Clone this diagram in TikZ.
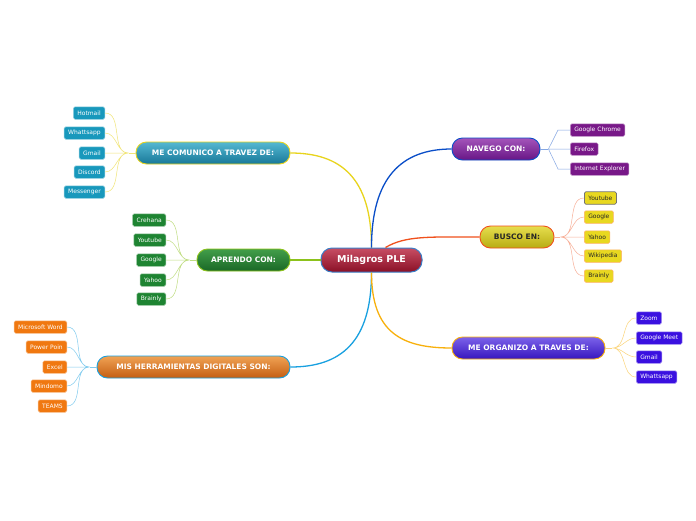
\documentclass[tikz,border=0pt]{standalone}
\usepackage{fontspec}
\setmainfont{DejaVu Sans}

\definecolor{rootline}{HTML}{3A7FC8}
\definecolor{comline}{HTML}{E8D41C}
\definecolor{aprline}{HTML}{8CC21C}
\definecolor{herline}{HTML}{18A0E0}
\definecolor{navline}{HTML}{0A4EC8}
\definecolor{busline}{HTML}{F0501C}
\definecolor{orgline}{HTML}{F8B00C}
\definecolor{comleaf}{HTML}{1898BC}
\definecolor{aprleaf}{HTML}{1E8432}
\definecolor{herleaf}{HTML}{F07810}
\definecolor{navleaf}{HTML}{781888}
\definecolor{busleaf}{HTML}{E8D820}
\definecolor{orgleaf}{HTML}{3A10E0}

\tikzset{
  root/.style={draw=rootline, line width=1pt, rounded corners=11pt,
    top color=red!30!purple!60!white, bottom color=red!60!black,
    middle color=red!70!purple!75!black,
    text=white, font=\bfseries\fontsize{9.5}{11}\selectfont,
    minimum width=101pt, minimum height=24pt, inner sep=0pt},
  branch/.style={line width=0.9pt, rounded corners=10.5pt, text=white,
    font=\bfseries\fontsize{7.5}{9}\selectfont,
    minimum height=22pt, inner sep=0pt},
  leaf/.style={line width=0.5pt, rounded corners=1.5pt, text=white,
    font=\fontsize{6}{7}\selectfont,
    minimum height=12.5pt, inner xsep=4pt, inner ysep=0pt},
  link/.style={line width=1.3pt},
  twig/.style={line width=0.5pt}
}

\begin{document}
\begin{tikzpicture}[x=1pt,y=-1pt]
  \fill[white] (0,0) rectangle (696,520);
  \useasboundingbox (0,0) rectangle (696,520);

  % centre and branches
  \node[root, top color={rgb,255:red,200;green,78;blue,100}, middle color={rgb,255:red,170;green,32;blue,58},
    bottom color={rgb,255:red,138;green,16;blue,38}] (root) at (371.5,260) {Milagros PLE};
  \node[branch, draw=comline, top color={rgb,255:red,84;green,184;blue,210}, bottom color={rgb,255:red,24;green,120;blue,152},
    minimum width=154pt] (comunico) at (213,153) {ME COMUNICO A TRAVEZ DE:};
  \node[branch, draw=aprline, top color={rgb,255:red,66;green,158;blue,74}, bottom color={rgb,255:red,26;green,104;blue,38},
    minimum width=93pt] (aprendo) at (243.5,260) {APRENDO CON:};
  \node[branch, draw=herline, top color={rgb,255:red,240;green,162;blue,84}, bottom color={rgb,255:red,196;green,94;blue,18},
    minimum width=193pt] (herram) at (193.5,367) {MIS HERRAMIENTAS DIGITALES SON:};
  \node[branch, draw=navline, top color={rgb,255:red,164;green,84;blue,186}, bottom color={rgb,255:red,104;green,22;blue,134},
    minimum width=88pt] (navego) at (496,149) {NAVEGO CON:};
  \node[branch, draw=busline, top color={rgb,255:red,230;green,222;blue,78}, bottom color={rgb,255:red,184;green,172;blue,18},
    text=black!85, minimum width=74pt] (busco) at (517,237) {BUSCO EN:};
  \node[branch, draw=orgline, top color={rgb,255:red,124;green,98;blue,234}, bottom color={rgb,255:red,54;green,22;blue,190},
    minimum width=153pt] (organizo) at (528.5,348) {ME ORGANIZO A TRAVES DE:};

  \draw[link, comline] (root.north) .. controls +(0,-70) and +(50,0) .. (comunico.east);
  \draw[link, navline] (root.north) .. controls +(0,-70) and +(-50,0) .. (navego.west);
  \draw[link, busline] ([xshift=14pt]root.north) .. controls +(20,-12) and +(-50,0) .. (busco.west);
  \draw[link, aprline] (root.west) -- (aprendo.east);
  \draw[link, herline] (root.south) .. controls +(0,70) and +(50,0) .. (herram.east);
  \draw[link, orgline] (root.south) .. controls +(0,60) and +(-50,0) .. (organizo.west);

  % ME COMUNICO A TRAVEZ DE
  \node[leaf, fill=comleaf, draw=comleaf!45, anchor=east] (com1) at (105,113) {Hotmail};
  \node[leaf, fill=comleaf, draw=comleaf!45, anchor=east] (com2) at (105,133) {Whattsapp};
  \node[leaf, fill=comleaf, draw=comleaf!45, anchor=east] (com3) at (105,153) {Gmail};
  \node[leaf, fill=comleaf, draw=comleaf!45, anchor=east] (com4) at (105,172) {Discord};
  \node[leaf, fill=comleaf, draw=comleaf!45, anchor=east] (com5) at (105,192) {Messenger};
  \draw[twig, comline!60] (comunico.west) -- ++(-7,0) coordinate (comhub);
  \draw[twig, comline!60] (comhub) to[out=180,in=0] (com1.east)
    (comhub) to[out=180,in=0] (com2.east) (comhub) -- (com3.east)
    (comhub) to[out=180,in=0] (com4.east) (comhub) to[out=180,in=0] (com5.east);

  % APRENDO CON
  \node[leaf, fill=aprleaf, draw=aprleaf!45, anchor=east] (apr1) at (166,220) {Crehana};
  \node[leaf, fill=aprleaf, draw=aprleaf!45, anchor=east] (apr2) at (166,240) {Youtube};
  \node[leaf, fill=aprleaf, draw=aprleaf!45, anchor=east] (apr3) at (166,260) {Google};
  \node[leaf, fill=aprleaf, draw=aprleaf!45, anchor=east] (apr4) at (166,280) {Yahoo};
  \node[leaf, fill=aprleaf, draw=aprleaf!45, anchor=east] (apr5) at (166,299) {Brainly};
  \draw[twig, aprline!55] (aprendo.west) -- ++(-7,0) coordinate (aprhub);
  \draw[twig, aprline!55] (aprhub) to[out=180,in=0] (apr1.east)
    (aprhub) to[out=180,in=0] (apr2.east) (aprhub) -- (apr3.east)
    (aprhub) to[out=180,in=0] (apr4.east) (aprhub) to[out=180,in=0] (apr5.east);

  % MIS HERRAMIENTAS DIGITALES SON
  \node[leaf, fill=herleaf, draw=herleaf!45, anchor=east] (her1) at (67,327) {Microsoft Word};
  \node[leaf, fill=herleaf, draw=herleaf!45, anchor=east] (her2) at (67,347) {Power Poin};
  \node[leaf, fill=herleaf, draw=herleaf!45, anchor=east] (her3) at (67,367) {Excel};
  \node[leaf, fill=herleaf, draw=herleaf!45, anchor=east] (her4) at (67,386) {Mindomo};
  \node[leaf, fill=herleaf, draw=herleaf!45, anchor=east] (her5) at (67,406) {TEAMS};
  \draw[twig, herline!55] (herram.west) -- ++(-7,0) coordinate (herhub);
  \draw[twig, herline!55] (herhub) to[out=180,in=0] (her1.east)
    (herhub) to[out=180,in=0] (her2.east) (herhub) -- (her3.east)
    (herhub) to[out=180,in=0] (her4.east) (herhub) to[out=180,in=0] (her5.east);

  % NAVEGO CON
  \node[leaf, fill=navleaf, draw=navleaf!45, anchor=west] (nav1) at (570,130) {Google Chrome};
  \node[leaf, fill=navleaf, draw=navleaf!45, anchor=west] (nav2) at (570,149) {Firefox};
  \node[leaf, fill=navleaf, draw=navleaf!45, anchor=west] (nav3) at (570,169) {Internet Explorer};
  \draw[twig, navline!50] (navego.east) -- ++(8,0) coordinate (navhub);
  \draw[twig, navline!50] (navhub) -- ([xshift=-12pt]nav1.west) -- (nav1.west)
    (navhub) -- (nav2.west)
    (navhub) -- ([xshift=-12pt]nav3.west) -- (nav3.west);

  % BUSCO EN
  \node[leaf, fill=busleaf, draw=black!55, line width=0.8pt, text=black!85, anchor=west] (bus1) at (584,198) {Youtube};
  \node[leaf, fill=busleaf, draw=orange!60, text=black!85, anchor=west] (bus2) at (584,217) {Google};
  \node[leaf, fill=busleaf, draw=orange!60, text=black!85, anchor=west] (bus3) at (584,237) {Yahoo};
  \node[leaf, fill=busleaf, draw=orange!60, text=black!85, anchor=west] (bus4) at (584,256) {Wikipedia};
  \node[leaf, fill=busleaf, draw=orange!60, text=black!85, anchor=west] (bus5) at (584,276) {Brainly};
  \draw[twig, busline!45] (busco.east) -- ++(6,0) coordinate (bushub);
  \draw[twig, busline!45] (bushub) to[out=0,in=180] (bus1.west)
    (bushub) to[out=0,in=180] (bus2.west) (bushub) -- (bus3.west)
    (bushub) to[out=0,in=180] (bus4.west) (bushub) to[out=0,in=180] (bus5.west);

  % ME ORGANIZO A TRAVES DE
  \node[leaf, fill=orgleaf, draw=orgleaf!45, anchor=west] (org1) at (636,318) {Zoom};
  \node[leaf, fill=orgleaf, draw=orgleaf!45, anchor=west] (org2) at (636,338) {Google Meet};
  \node[leaf, fill=orgleaf, draw=orgleaf!45, anchor=west] (org3) at (636,357) {Gmail};
  \node[leaf, fill=orgleaf, draw=orgleaf!45, anchor=west] (org4) at (636,377) {Whattsapp};
  \draw[twig, orgline!55] (organizo.east) -- ++(7,0) coordinate (orghub);
  \draw[twig, orgline!55] (orghub) to[out=0,in=180] (org1.west)
    (orghub) to[out=0,in=180] (org2.west) (orghub) to[out=0,in=180] (org3.west)
    (orghub) to[out=0,in=180] (org4.west);
\end{tikzpicture}
\end{document}
